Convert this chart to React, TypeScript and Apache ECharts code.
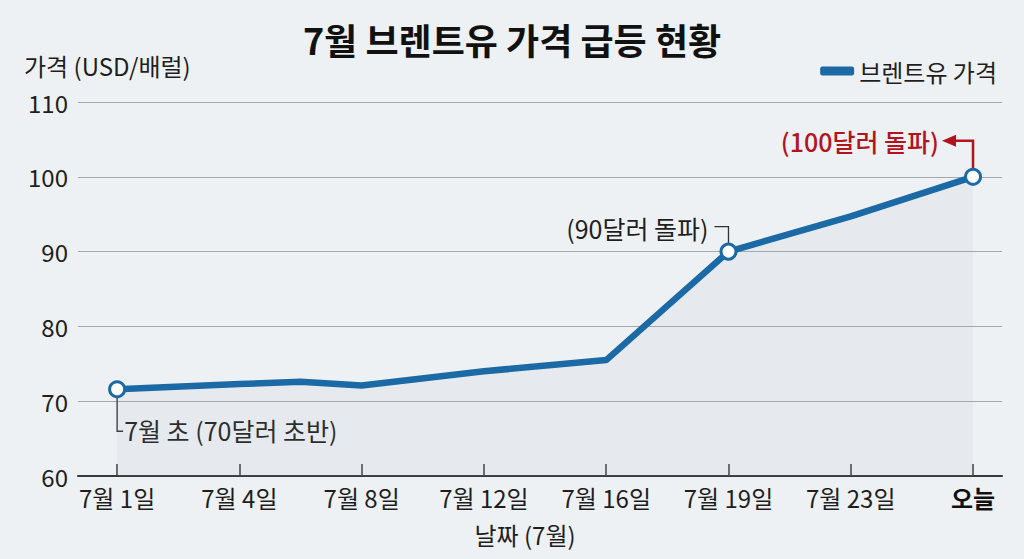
import React, { useEffect, useRef } from "react";
import * as echarts from "echarts";

const categories = ["7월 1일", "7월 4일", "7월 8일", "7월 12일", "7월 16일", "7월 19일", "7월 23일", "오늘"];
const categoryPositions = [0, 1, 2, 3, 4, 5, 6, 7];
const pointPositions = [0, 1, 1.5, 2, 3, 4, 5, 6, 7];
const prices = [71.6, 72.3, 72.6, 72.1, 74.0, 75.5, 90, 94.7, 100];
const markedIdx = [0, 6, 8];
const yMin = 60;
const yMax = 110;
const yStep = 10;
const seriesName = "브렌트유 가격";
const titleText = "7월 브렌트유 가격 급등 현황";
const yName = "가격 (USD/배럴)";
const xName = "날짜 (7월)";
const noteStart = "7월 초 (70달러 초반)";
const note90 = "(90달러 돌파)";
const note100 = "(100달러 돌파)";

const FONT = "'Noto Sans CJK KR', 'Noto Sans', sans-serif";
const BLUE = "#1b6aa5";
const RED = "#b3131d";
const TXT = "#1e1e1e";

export default function App() {
  const ref = useRef<HTMLDivElement>(null);
  useEffect(() => {
    document.body.style.margin = "0";
    const chart = echarts.init(ref.current!, null, { renderer: "svg" });
    const data = pointPositions.map((x, i) => {
      const marked = markedIdx.includes(i);
      return marked
        ? {
            value: [x, prices[i]],
            symbol: "circle",
            symbolSize: 15,
            itemStyle: { color: "#ffffff", borderColor: BLUE, borderWidth: 3 },
          }
        : { value: [x, prices[i]], symbol: "none" };
    });
    chart.setOption({
      animation: false,
      backgroundColor: "#eef1f4",
      textStyle: { fontFamily: FONT },
      title: {
        text: titleText,
        left: "center",
        top: 16,
        textStyle: { fontFamily: FONT, fontSize: 36, fontWeight: "bold", color: "#111" },
      },
      legend: {
        data: [seriesName],
        right: 22,
        top: 54,
        icon: "roundRect",
        itemWidth: 34,
        itemHeight: 9,
        itemGap: 8,
        textStyle: { fontFamily: FONT, fontSize: 24, color: TXT },
      },
      grid: { left: 78, right: 22, top: 102, bottom: 83 },
      xAxis: {
        type: "value",
        min: -0.32,
        max: 7.237,
        name: xName,
        nameLocation: "middle",
        nameGap: 46,
        nameTextStyle: { fontFamily: FONT, fontSize: 24, color: TXT, padding: [0, 30, 0, 0] },
        axisLine: { show: true, lineStyle: { color: "#3a3a3a", width: 2 } },
        axisTick: {
          show: true,
          inside: true,
          length: 12,
          customValues: categoryPositions,
          lineStyle: { color: "#3a3a3a", width: 1.5 },
        },
        axisLabel: {
          customValues: categoryPositions,
          margin: 9,
          fontFamily: FONT,
          fontSize: 24,
          color: TXT,
          formatter: (v: number) => {
            const i = Math.round(v);
            return i === categories.length - 1 ? `{b|${categories[i]}}` : categories[i];
          },
          rich: { b: { fontFamily: FONT, fontSize: 24, fontWeight: "bold", color: "#111" } },
        },
        splitLine: { show: false },
      },
      yAxis: {
        type: "value",
        min: yMin,
        max: yMax,
        interval: yStep,
        axisLine: { show: false },
        axisTick: { show: false },
        axisLabel: { fontFamily: FONT, fontSize: 24, color: TXT, margin: 10 },
        splitLine: { lineStyle: { color: "#a3a8ad", width: 1 } },
      },
      series: [
        {
          name: seriesName,
          type: "line",
          data,
          color: BLUE,
          lineStyle: { color: BLUE, width: 6.5, join: "round", cap: "round" },
          areaStyle: { color: "rgba(160,170,182,0.14)", origin: "start" },
          z: 3,
        },
      ],
    });

    const px = (i: number) =>
      chart.convertToPixel({ xAxisIndex: 0, yAxisIndex: 0 }, [pointPositions[i], prices[i]]) as number[];
    const [x0, y0] = px(markedIdx[0]);
    const [x1, y1] = px(markedIdx[1]);
    const [x2, y2] = px(markedIdx[2]);
    const lineStyle = { stroke: "#333", lineWidth: 1.3, fill: null };
    chart.setOption({
      graphic: [
        {
          type: "text",
          left: 24,
          top: 53,
          style: { text: yName, fontFamily: FONT, fontSize: 24, fill: TXT },
        },
        {
          type: "polyline",
          shape: { points: [[x0, y0 + 8], [x0, y0 + 42], [x0 + 6, y0 + 42]] },
          style: lineStyle,
        },
        {
          type: "text",
          x: x0 + 7,
          y: y0 + 41,
          style: { text: noteStart, fontFamily: FONT, fontSize: 25, fill: TXT, verticalAlign: "middle" },
        },
        {
          type: "polyline",
          shape: { points: [[x1, y1 - 8], [x1, y1 - 25], [x1 - 14, y1 - 25]] },
          style: lineStyle,
        },
        {
          type: "text",
          x: x1 - 20,
          y: y1 - 24,
          style: { text: note90, fontFamily: FONT, fontSize: 25, fill: TXT, align: "right", verticalAlign: "middle" },
        },
        {
          type: "polyline",
          shape: { points: [[x2, y2 - 8], [x2, y2 - 36], [x2 - 20, y2 - 36]] },
          style: { stroke: RED, lineWidth: 2.5, fill: null },
        },
        {
          type: "polygon",
          shape: { points: [[x2 - 31, y2 - 36], [x2 - 17, y2 - 42], [x2 - 17, y2 - 30]] },
          style: { fill: RED },
        },
        {
          type: "text",
          x: x2 - 34,
          y: y2 - 36,
          style: {
            text: note100,
            fontFamily: FONT,
            fontSize: 25,
            fontWeight: 500,
            fill: RED,
            align: "right",
            verticalAlign: "middle",
          },
        },
      ],
    });
    return () => chart.dispose();
  }, []);
  return <div ref={ref} style={{ width: 1024, height: 559 }} />;
}
